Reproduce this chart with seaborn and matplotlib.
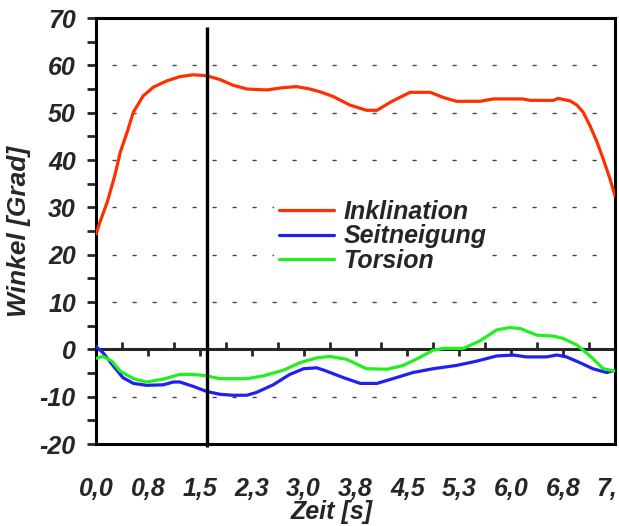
import numpy as np
import pandas as pd
import seaborn as sns
import matplotlib.pyplot as plt
from matplotlib.ticker import MultipleLocator, FixedLocator
from matplotlib.transforms import ScaledTranslation

# ---- data (time in s, angle in degrees)
t_inkl = [0.0, 0.06, 0.16, 0.27, 0.35, 0.45, 0.54, 0.68, 0.83, 1.02, 1.21, 1.40, 1.60,
          1.79, 1.98, 2.18, 2.47, 2.71, 2.90, 3.09, 3.24, 3.43, 3.67, 3.91, 4.06, 4.29,
          4.54, 4.83, 5.02, 5.21, 5.55, 5.74, 6.17, 6.27, 6.61, 6.68, 6.85, 6.95, 7.04,
          7.14, 7.24, 7.33, 7.43, 7.50]
inklination = [24.3, 27.0, 31.0, 36.6, 41.6, 45.9, 50.1, 53.5, 55.4, 56.7, 57.6, 58.0, 57.8,
               57.0, 55.8, 55.0, 54.8, 55.3, 55.5, 55.0, 54.4, 53.4, 51.6, 50.5, 50.5, 52.5,
               54.3, 54.3, 53.2, 52.4, 52.4, 52.9, 52.9, 52.6, 52.6, 53.0, 52.5, 51.6, 50.1,
               47.2, 43.8, 40.2, 35.9, 32.4]

t_seit = [0.0, 0.10, 0.25, 0.39, 0.54, 0.73, 0.97, 1.12, 1.21, 1.40, 1.60, 1.79, 1.98,
          2.18, 2.32, 2.56, 2.80, 3.00, 3.19, 3.33, 3.58, 3.82, 4.06, 4.29, 4.58, 4.87,
          5.21, 5.50, 5.79, 6.03, 6.22, 6.51, 6.66, 6.80, 6.99, 7.18, 7.38, 7.50]
seitneigung = [0.6, -0.7, -3.5, -6.0, -7.2, -7.6, -7.5, -6.9, -6.9, -7.8, -8.9, -9.5, -9.7,
               -9.7, -9.1, -7.5, -5.3, -4.1, -3.9, -4.6, -6.0, -7.2, -7.2, -6.2, -4.9, -4.1,
               -3.4, -2.5, -1.4, -1.2, -1.6, -1.6, -1.2, -1.6, -2.8, -4.1, -4.9, -4.4]

t_tors = [0.0, 0.10, 0.23, 0.35, 0.54, 0.73, 0.97, 1.21, 1.40, 1.60, 1.79, 2.18, 2.42,
          2.71, 2.95, 3.19, 3.38, 3.62, 3.91, 4.21, 4.44, 4.68, 4.87, 5.02, 5.31, 5.55,
          5.79, 5.98, 6.13, 6.37, 6.61, 6.75, 6.95, 7.14, 7.33, 7.50]
torsion = [-1.9, -1.5, -2.5, -4.6, -6.2, -6.9, -6.3, -5.3, -5.3, -5.6, -6.2, -6.2, -5.6,
           -4.4, -2.8, -1.8, -1.5, -2.1, -4.1, -4.2, -3.4, -1.7, -0.2, 0.2, 0.2, 1.8,
           4.1, 4.6, 4.4, 3.0, 2.8, 2.3, 0.9, -1.4, -4.1, -4.6]

serien = ["Inklination", "Seitneigung", "Torsion"]
farben = ["#ff3000", "#2020f0", "#20f020"]
x_ticks = [0.0, 0.75, 1.5, 2.25, 3.0, 3.75, 4.5, 5.25, 6.0, 6.75, 7.5]
x_labels = ["0,0", "0,8", "1,5", "2,3", "3,0", "3,8", "4,5", "5,3", "6,0", "6,8", "7,"]
grid_levels = [60, 50, 40, 30, 20, 10, -10]
marker_zeit = 1.6

df = pd.concat([
    pd.DataFrame({"Zeit": t_inkl, "Winkel": inklination, "Serie": "Inklination"}),
    pd.DataFrame({"Zeit": t_seit, "Winkel": seitneigung, "Serie": "Seitneigung"}),
    pd.DataFrame({"Zeit": t_tors, "Winkel": torsion, "Serie": "Torsion"}),
], ignore_index=True)

sns.set_style("white")
plt.rcParams["font.family"] = ["Liberation Sans", "DejaVu Sans"]
plt.rcParams["font.weight"] = "bold"
plt.rcParams["font.style"] = "italic"
plt.rcParams["axes.unicode_minus"] = False

fig = plt.figure(figsize=(6.19, 5.26), dpi=100)
ax = fig.add_axes([96 / 619, 82 / 526, 519 / 619, 426 / 526])

# dashed grid lines (not quite reaching the frame, like the original)
ax.hlines(grid_levels, 0.03, 0.985, transform=ax.get_yaxis_transform(),
          colors="#444444", linewidth=1, linestyles=(0, (3, 11.4)), zorder=1)

sns.lineplot(data=df, x="Zeit", y="Winkel", hue="Serie", palette=farben,
             hue_order=serien, sort=False, estimator=None, linewidth=2.3,
             ax=ax, zorder=3)

ax.vlines(marker_zeit, -20.6, 68, colors="black", linewidth=2.4,
          clip_on=False, zorder=4)

ax.set_xlim(0, 7.5)
ax.set_ylim(-20, 70)

for s in ax.spines.values():
    s.set_linewidth(2.2)
    s.set_color("black")

# y axis
ax.yaxis.set_major_locator(MultipleLocator(10))
ax.yaxis.set_minor_locator(MultipleLocator(5))
ax.tick_params(axis="y", which="both", direction="out", length=6.5, width=2,
               left=True, labelsize=18, pad=8)
ax.set_ylabel("Winkel [Grad]", fontsize=19, fontweight="bold", fontstyle="italic")
ax.yaxis.set_label_coords(-0.125, 0.5)

# x labels at the bottom of the frame, without tick marks
ax.set_xticks(x_ticks)
ax.set_xticklabels(x_labels)
ax.tick_params(axis="x", which="both", length=0, labelsize=18, pad=24)
ax.set_xlabel("Zeit [s]", fontsize=18, fontweight="bold", fontstyle="italic")
ax.xaxis.set_label_coords(0.455, -0.132)
# the last label is cut at the figure edge in the original; nudge it left
last = ax.get_xticklabels()[-1]
last.set_transform(last.get_transform() + ScaledTranslation(-8 / 100, 0, fig.dpi_scale_trans))

# x axis line with ticks crossing at 0
sec = ax.secondary_xaxis(20 / 90)
sec.spines["bottom"].set_linewidth(2.2)
sec.xaxis.set_major_locator(FixedLocator(x_ticks))
sec.xaxis.set_minor_locator(FixedLocator([v + 0.375 for v in x_ticks[:-1]]))
sec.tick_params(axis="x", which="major", direction="out", length=5, width=2,
                labelbottom=False)
sec.tick_params(axis="x", which="minor", direction="in", length=5, width=2)

handles, labels = ax.get_legend_handles_labels()
leg = ax.legend(handles, labels, loc="upper left", bbox_to_anchor=(0.318, 0.614),
                frameon=True, facecolor="white", edgecolor="none", framealpha=1,
                fancybox=False, fontsize=18, handlelength=2.2, handletextpad=0.4,
                labelspacing=0.02, borderpad=0.2)
for line in leg.get_lines():
    line.set_linewidth(2.3)
leg.set_zorder(5)

fig.savefig("out.png", dpi=100)
